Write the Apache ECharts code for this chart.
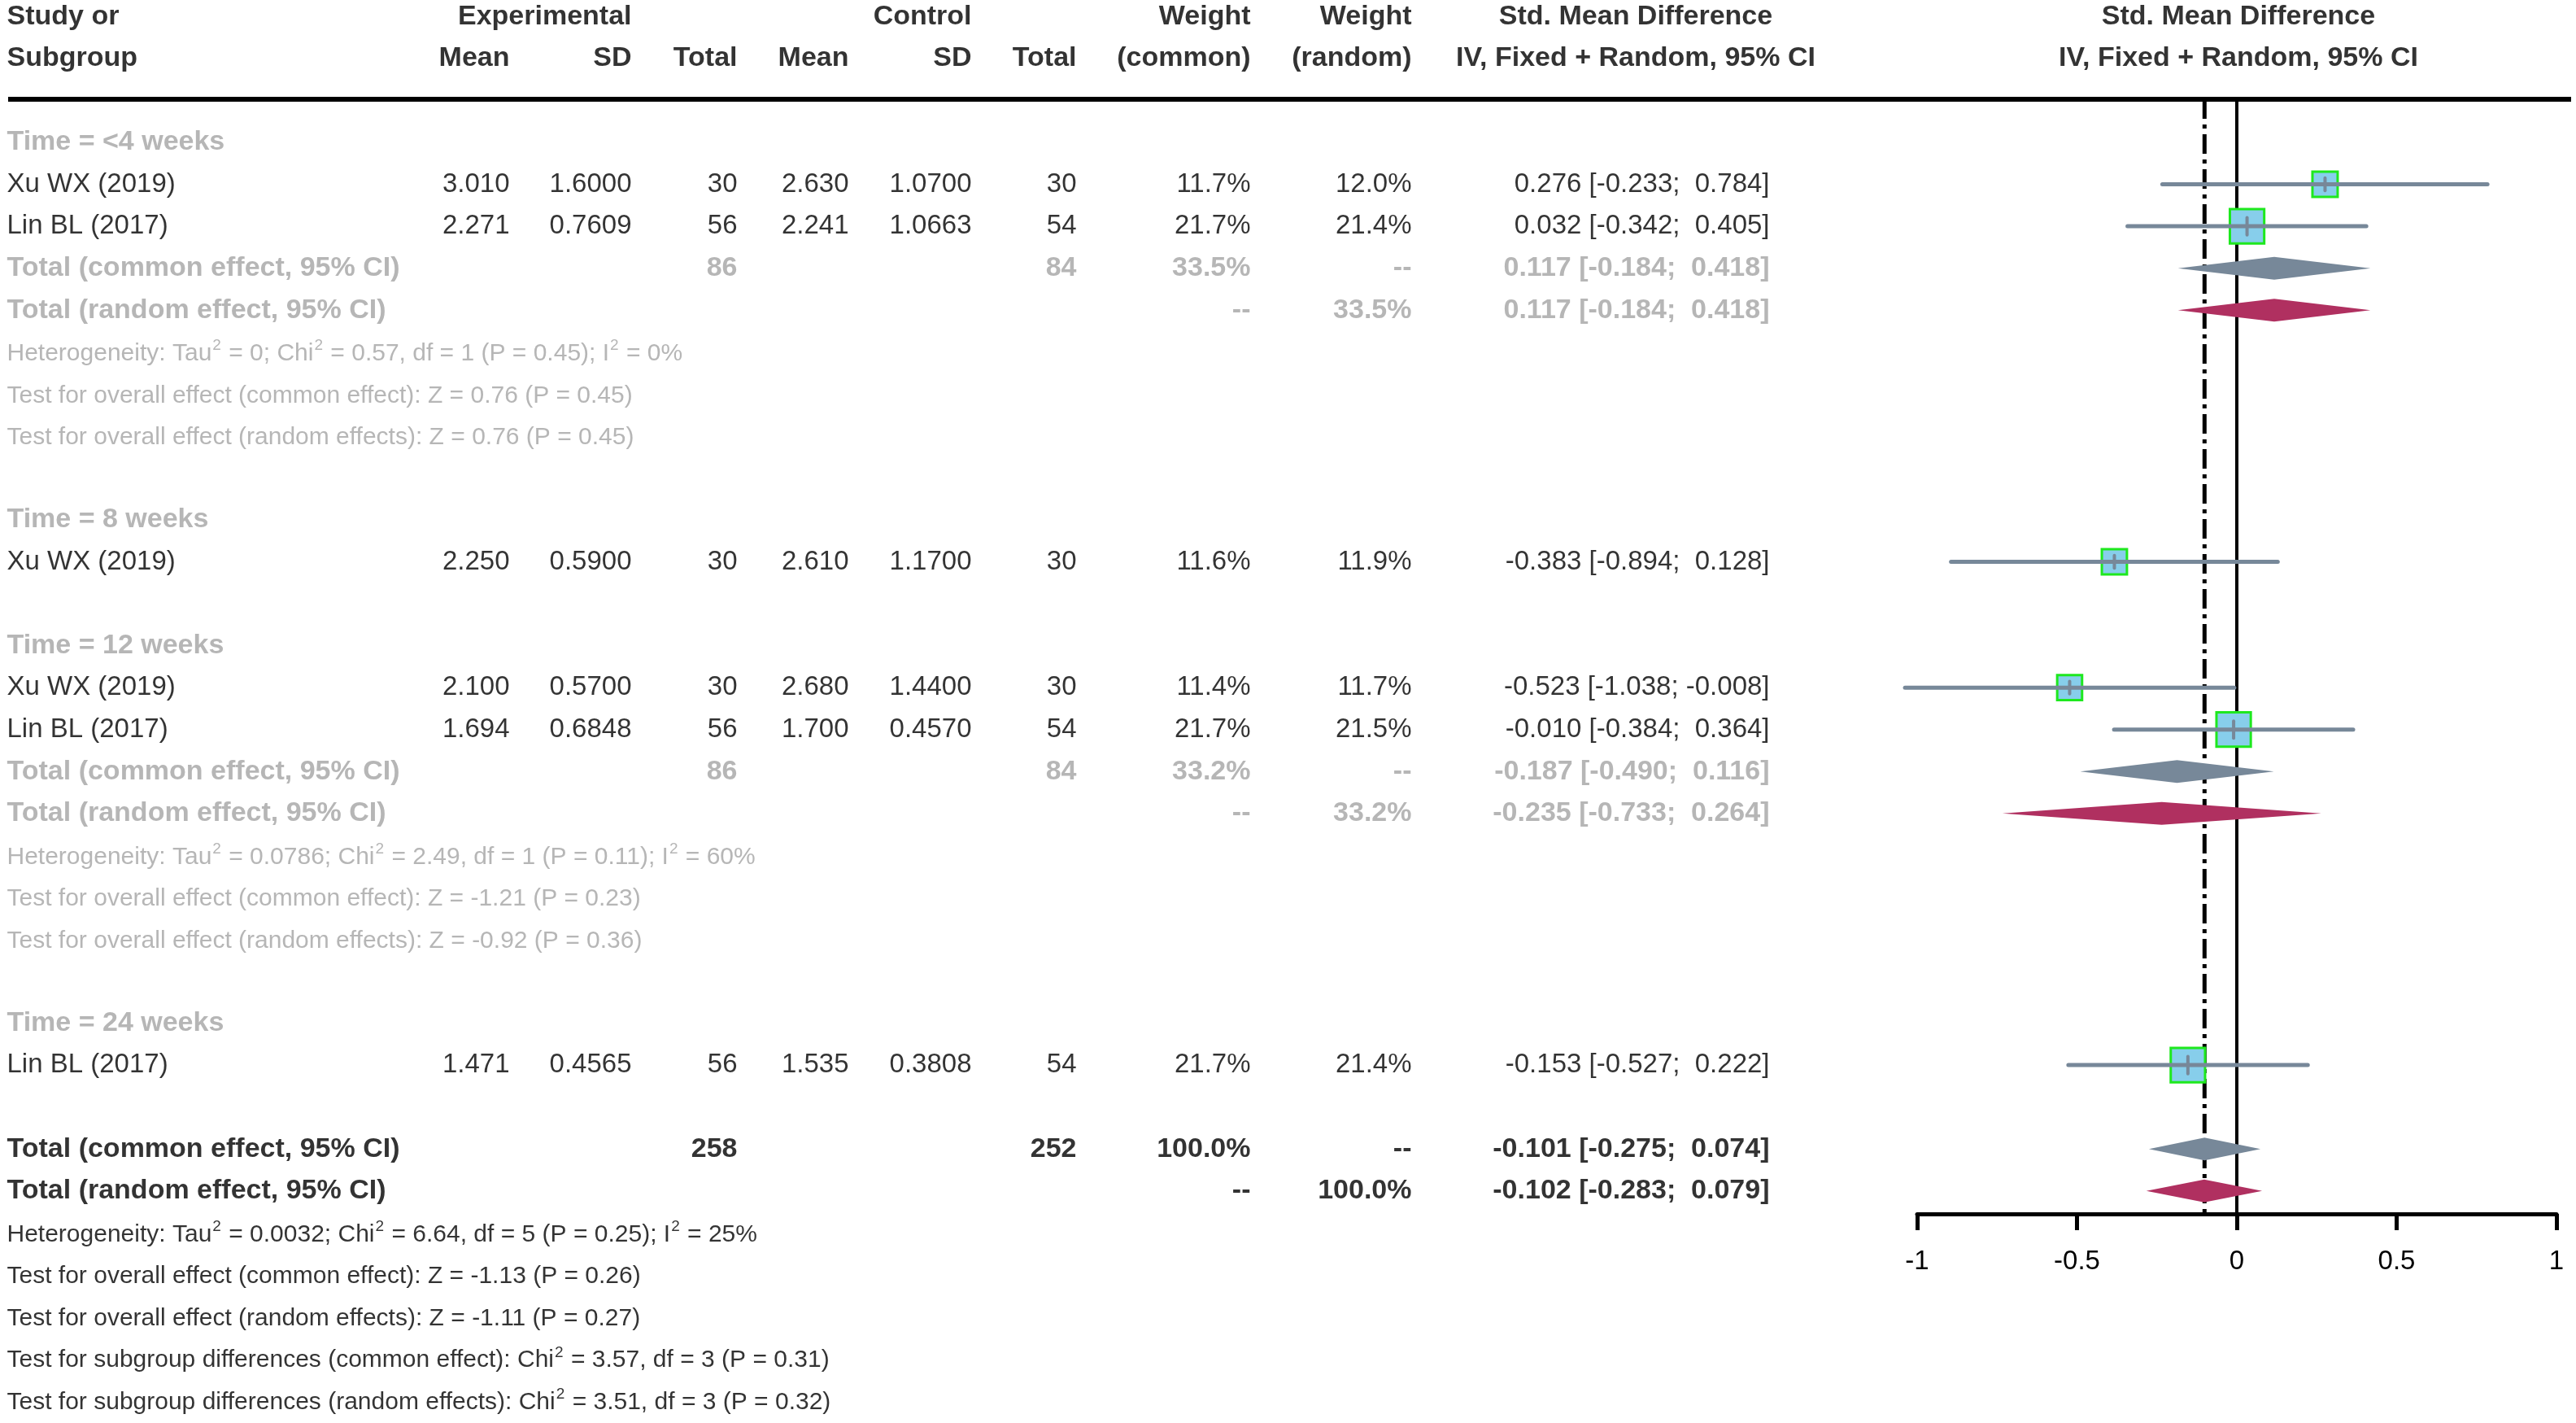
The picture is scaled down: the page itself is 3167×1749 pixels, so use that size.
<!DOCTYPE html>
<html>
<head>
<meta charset="utf-8">
<script src="https://cdn.jsdelivr.net/npm/echarts@6/dist/echarts.min.js"></script>
<style>
html,body{margin:0;padding:0;background:#fff;}
#chart{width:3167px;height:1749px;}
</style>
</head>
<body>
<div id="chart"></div>
<script>
// ---------------- DATA ----------------
const subgroupNames = ["Time = <4 weeks", "Time = 8 weeks", "Time = 12 weeks", "Time = 24 weeks"];
const studyLabels = ["Xu WX (2019)", "Lin BL (2017)", "Xu WX (2019)", "Xu WX (2019)", "Lin BL (2017)", "Lin BL (2017)"];
const studySubgroup = [0, 0, 1, 2, 2, 3];
const expMean = [3.010, 2.271, 2.250, 2.100, 1.694, 1.471];
const expSD = [1.6000, 0.7609, 0.5900, 0.5700, 0.6848, 0.4565];
const expN = [30, 56, 30, 30, 56, 56];
const ctrlMean = [2.630, 2.241, 2.610, 2.680, 1.700, 1.535];
const ctrlSD = [1.0700, 1.0663, 1.1700, 1.4400, 0.4570, 0.3808];
const ctrlN = [30, 54, 30, 30, 54, 54];
const weightCommon = [11.7, 21.7, 11.6, 11.4, 21.7, 21.7];
const weightRandom = [12.0, 21.4, 11.9, 11.7, 21.5, 21.4];
const smd = [0.276, 0.032, -0.383, -0.523, -0.010, -0.153];
const smdLower = [-0.233, -0.342, -0.894, -1.038, -0.384, -0.527];
const smdUpper = [0.784, 0.405, 0.128, -0.008, 0.364, 0.222];

const sgExpN = [86, null, 86, null];
const sgCtrlN = [84, null, 84, null];
const sgWeightCommon = [33.5, null, 33.2, null];
const sgWeightRandom = [33.5, null, 33.2, null];
const sgCommon = [[0.117, -0.184, 0.418], null, [-0.187, -0.490, 0.116], null];
const sgRandom = [[0.117, -0.184, 0.418], null, [-0.235, -0.733, 0.264], null];
const sgStats = [
  ["Heterogeneity: Tau^2 = 0; Chi^2 = 0.57, df = 1 (P = 0.45); I^2 = 0%",
   "Test for overall effect (common effect): Z = 0.76 (P = 0.45)",
   "Test for overall effect (random effects): Z = 0.76 (P = 0.45)"],
  null,
  ["Heterogeneity: Tau^2 = 0.0786; Chi^2 = 2.49, df = 1 (P = 0.11); I^2 = 60%",
   "Test for overall effect (common effect): Z = -1.21 (P = 0.23)",
   "Test for overall effect (random effects): Z = -0.92 (P = 0.36)"],
  null
];
const totalExpN = 258, totalCtrlN = 252;
const overallCommon = [-0.101, -0.275, 0.074];
const overallRandom = [-0.102, -0.283, 0.079];
const overallStats = [
  "Heterogeneity: Tau^2 = 0.0032; Chi^2 = 6.64, df = 5 (P = 0.25); I^2 = 25%",
  "Test for overall effect (common effect): Z = -1.13 (P = 0.26)",
  "Test for overall effect (random effects): Z = -1.11 (P = 0.27)",
  "Test for subgroup differences (common effect): Chi^2 = 3.57, df = 3 (P = 0.31)",
  "Test for subgroup differences (random effects): Chi^2 = 3.51, df = 3 (P = 0.32)"
];
const axisTicks = [-1, -0.5, 0, 0.5, 1];

// ---------------- LAYOUT ----------------
const W = 3167, H = 1749;
const ROW0 = 175, ROWH = 51.55;
const rowAt = px => (px - ROW0) / ROWH;
const COL = {label: 8, expMean: 627, expSD: 777, expN: 907, ctrlMean: 1044, ctrlSD: 1195, ctrlN: 1324,
             wC: 1538, wR: 1736, ci: 2176, ciHead: 2011, plotHead: 2752};
const FONT = '"Liberation Sans", Arial, Helvetica, sans-serif';
const FS = 33, FS_BOLD = 34, FS_STAT = 30, FS_SUP = 19;
const GREY = '#a4a4a4';
const PLOT_L = 2357, PLOT_R = 3143, PLOT_TOP = 122, PLOT_AXIS = 1492;

const f3 = v => v.toFixed(3);
const f4 = v => v.toFixed(4);
const pct = v => v.toFixed(1) + '%';
const ci = (e) => `${f3(e[0])} [${e[1] < 0 ? '' : ' '}${f3(e[1])}; ${e[2] < 0 ? '' : ' '}${f3(e[2])}]`;

const texts = [];
function T(x, row, text, align, opt) {
  opt = opt || {};
  const bold = !!opt.bold;
  const label = {
    show: true,
    formatter: text,
    position: align === 'left' ? 'right' : (align === 'right' ? 'left' : 'inside'),
    distance: 0,
    fontFamily: FONT,
    fontSize: opt.size || (bold ? FS_BOLD : FS),
    fontWeight: bold ? 'bold' : 'normal',
    color: opt.color || '#000'
  };
  if (opt.stat) {
    // superscripts written as ^2
    const parts = text.split('^2');
    let f = '';
    parts.forEach((p, i) => {
      if (p.length) f += '{n|' + p + '}';
      if (i < parts.length - 1) f += '{s|2}';
    });
    label.formatter = f;
    label.rich = {
      n: {fontFamily: FONT, fontSize: FS_STAT, color: label.color, lineHeight: 34, verticalAlign: 'bottom'},
      s: {fontFamily: FONT, fontSize: FS_SUP, color: label.color, lineHeight: 20, verticalAlign: 'top', padding: [0, 1, 0, 1]}
    };
  }
  texts.push({value: [x, row], label});
}

// header
T(COL.label, -3.0, 'Study or', 'left', {bold: true});
T(COL.label, -2.0, 'Subgroup', 'left', {bold: true});
T(COL.expSD, -3.0, 'Experimental', 'right', {bold: true});
T(COL.ctrlSD, -3.0, 'Control', 'right', {bold: true});
T(COL.expMean, -2.0, 'Mean', 'right', {bold: true});
T(COL.expSD, -2.0, 'SD', 'right', {bold: true});
T(COL.expN, -2.0, 'Total', 'right', {bold: true});
T(COL.ctrlMean, -2.0, 'Mean', 'right', {bold: true});
T(COL.ctrlSD, -2.0, 'SD', 'right', {bold: true});
T(COL.ctrlN, -2.0, 'Total', 'right', {bold: true});
T(COL.wC, -3.0, 'Weight', 'right', {bold: true});
T(COL.wR, -3.0, 'Weight', 'right', {bold: true});
T(COL.wC, -2.0, '(common)', 'right', {bold: true});
T(COL.wR, -2.0, '(random)', 'right', {bold: true});
T(COL.ciHead, -3.0, 'Std. Mean Difference', 'center', {bold: true});
T(COL.ciHead, -2.0, 'IV, Fixed + Random, 95% CI', 'center', {bold: true});
T(COL.plotHead, -3.0, 'Std. Mean Difference', 'center', {bold: true});
T(COL.plotHead, -2.0, 'IV, Fixed + Random, 95% CI', 'center', {bold: true});

const studyData = [];
const diamondData = [];
let r = 0;
for (let g = 0; g < subgroupNames.length; g++) {
  T(COL.label, r, subgroupNames[g], 'left', {bold: true, color: GREY});
  r++;
  for (let i = 0; i < studyLabels.length; i++) {
    if (studySubgroup[i] !== g) continue;
    T(COL.label, r, studyLabels[i], 'left');
    T(COL.expMean, r, f3(expMean[i]), 'right');
    T(COL.expSD, r, f4(expSD[i]), 'right');
    T(COL.expN, r, String(expN[i]), 'right');
    T(COL.ctrlMean, r, f3(ctrlMean[i]), 'right');
    T(COL.ctrlSD, r, f4(ctrlSD[i]), 'right');
    T(COL.ctrlN, r, String(ctrlN[i]), 'right');
    T(COL.wC, r, pct(weightCommon[i]), 'right');
    T(COL.wR, r, pct(weightRandom[i]), 'right');
    T(COL.ci, r, ci([smd[i], smdLower[i], smdUpper[i]]), 'right');
    studyData.push([smd[i], smdLower[i], smdUpper[i], r, weightCommon[i]]);
    r++;
  }
  if (sgExpN[g] != null) {
    const st = {bold: true, color: GREY};
    T(COL.label, r, 'Total (common effect, 95% CI)', 'left', st);
    T(COL.expN, r, String(sgExpN[g]), 'right', st);
    T(COL.ctrlN, r, String(sgCtrlN[g]), 'right', st);
    T(COL.wC, r, pct(sgWeightCommon[g]), 'right', st);
    T(COL.wR, r, '--', 'right', st);
    T(COL.ci, r, ci(sgCommon[g]), 'right', st);
    diamondData.push([sgCommon[g][0], sgCommon[g][1], sgCommon[g][2], r, 0]);
    r++;
    T(COL.label, r, 'Total (random effect, 95% CI)', 'left', st);
    T(COL.wC, r, '--', 'right', st);
    T(COL.wR, r, pct(sgWeightRandom[g]), 'right', st);
    T(COL.ci, r, ci(sgRandom[g]), 'right', st);
    diamondData.push([sgRandom[g][0], sgRandom[g][1], sgRandom[g][2], r, 1]);
    r++;
    for (const s of sgStats[g]) { T(COL.label, r, s, 'left', {stat: true, size: FS_STAT, color: GREY}); r++; }
  }
  r++;
}
{
  const st = {bold: true};
  T(COL.label, r, 'Total (common effect, 95% CI)', 'left', st);
  T(COL.expN, r, String(totalExpN), 'right', st);
  T(COL.ctrlN, r, String(totalCtrlN), 'right', st);
  T(COL.wC, r, '100.0%', 'right', st);
  T(COL.wR, r, '--', 'right', st);
  T(COL.ci, r, ci(overallCommon), 'right', st);
  diamondData.push([overallCommon[0], overallCommon[1], overallCommon[2], r, 0]);
  r++;
  T(COL.label, r, 'Total (random effect, 95% CI)', 'left', st);
  T(COL.wC, r, '--', 'right', st);
  T(COL.wR, r, '100.0%', 'right', st);
  T(COL.ci, r, ci(overallRandom), 'right', st);
  diamondData.push([overallRandom[0], overallRandom[1], overallRandom[2], r, 1]);
  r++;
  for (const s of overallStats) { T(COL.label, r, s, 'left', {stat: true, size: FS_STAT}); r++; }
}

const yTop = rowAt(PLOT_TOP), yBot = rowAt(PLOT_AXIS);

const chart = echarts.init(document.getElementById('chart'), null, {renderer: 'canvas'});
chart.setOption({
  backgroundColor: '#fff',
  animation: false,
  grid: [
    {left: 0, top: 0, width: W, height: H},
    {left: PLOT_L, top: PLOT_TOP, width: PLOT_R - PLOT_L, height: PLOT_AXIS - PLOT_TOP}
  ],
  xAxis: [
    {gridIndex: 0, type: 'value', min: 0, max: W, show: false},
    {gridIndex: 1, type: 'value', min: axisTicks[0], max: axisTicks[axisTicks.length - 1], interval: 0.5,
     position: 'bottom',
     axisLine: {show: true, onZero: false, lineStyle: {color: '#000', width: 5}},
     axisTick: {show: true, inside: false, length: 20, lineStyle: {color: '#000', width: 5}},
     axisLabel: {show: true, margin: 42, fontFamily: FONT, fontSize: FS, color: '#000'},
     splitLine: {show: false}}
  ],
  yAxis: [
    {gridIndex: 0, type: 'value', inverse: true, min: rowAt(0), max: rowAt(H), show: false},
    {gridIndex: 1, type: 'value', inverse: true, min: yTop, max: yBot, show: false}
  ],
  series: [
    {
      type: 'line', xAxisIndex: 0, yAxisIndex: 0, symbol: 'none', silent: true,
      data: [[10, rowAt(PLOT_TOP)], [3161, rowAt(PLOT_TOP)]],
      lineStyle: {color: '#000', width: 6}, z: 1
    },
    {
      type: 'line', xAxisIndex: 1, yAxisIndex: 1, symbol: 'none', silent: true,
      data: [[0, yTop], [0, yBot]],
      lineStyle: {color: '#000', width: 4}, z: 2
    },
    {
      type: 'line', xAxisIndex: 1, yAxisIndex: 1, symbol: 'none', silent: true,
      data: [[overallCommon[0], yTop], [overallCommon[0], yBot]],
      lineStyle: {color: '#000', width: 5, type: [24, 7, 5, 7]}, z: 2
    },
    {
      type: 'custom', xAxisIndex: 1, yAxisIndex: 1, silent: true, clip: false, z: 5,
      data: studyData,
      renderItem: function (params, api) {
        const e = api.coord([api.value(0), api.value(3)]);
        const lo = api.coord([api.value(1), api.value(3)]);
        const hi = api.coord([api.value(2), api.value(3)]);
        const s = 9.06 * Math.sqrt(api.value(4));
        return {type: 'group', children: [
          {type: 'rect', shape: {x: e[0] - s / 2, y: e[1] - s / 2, width: s, height: s},
           style: {fill: '#87CEEB', stroke: '#1EE81E', lineWidth: 3}},
          {type: 'line', shape: {x1: lo[0], y1: lo[1], x2: hi[0], y2: hi[1]},
           style: {stroke: '#778899', lineWidth: 5, lineCap: 'round'}},
          {type: 'line', shape: {x1: e[0], y1: e[1] - s / 4, x2: e[0], y2: e[1] + s / 4},
           style: {stroke: '#778899', lineWidth: 4, lineCap: 'round'}}
        ]};
      }
    },
    {
      type: 'custom', xAxisIndex: 1, yAxisIndex: 1, silent: true, clip: false, z: 5,
      data: diamondData,
      renderItem: function (params, api) {
        const e = api.coord([api.value(0), api.value(3)]);
        const lo = api.coord([api.value(1), api.value(3)]);
        const hi = api.coord([api.value(2), api.value(3)]);
        const h = 14;
        return {type: 'polygon', shape: {points: [lo, [e[0], e[1] - h], hi, [e[0], e[1] + h]]},
                style: {fill: api.value(4) === 0 ? '#778899' : '#B03060'}};
      }
    },
    {
      type: 'scatter', xAxisIndex: 0, yAxisIndex: 0, silent: true, symbolSize: 1,
      itemStyle: {color: 'rgba(0,0,0,0)'}, z: 10,
      data: texts
    }
  ]
});
</script>
</body>
</html>
